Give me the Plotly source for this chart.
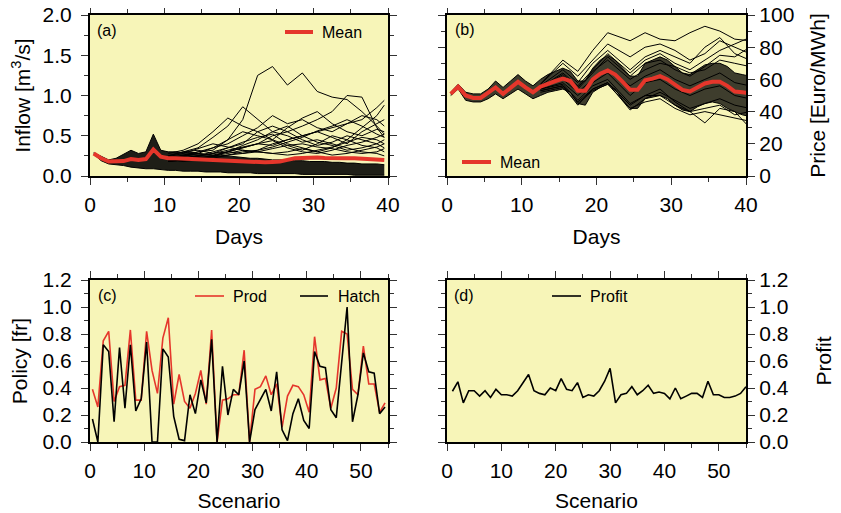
import plotly.graph_objects as go

# ---------------- Panel (a): inflow scenarios ----------------
days_a = [0.5 + k for k in range(40)]
inflow_mean = [0.28, 0.22, 0.18, 0.18, 0.185, 0.21, 0.20, 0.21, 0.33, 0.24,
               0.22, 0.22, 0.215, 0.21, 0.205, 0.20, 0.195, 0.19, 0.185, 0.18,
               0.175, 0.17, 0.17, 0.17, 0.175, 0.18, 0.20, 0.22, 0.225, 0.23,
               0.23, 0.225, 0.22, 0.215, 0.22, 0.22, 0.215, 0.21, 0.205, 0.20]
inflow_low = [0.27, 0.19, 0.15, 0.14, 0.13, 0.11, 0.10, 0.09, 0.09, 0.08,
              0.07, 0.07, 0.06, 0.06, 0.06, 0.05, 0.05, 0.05, 0.04, 0.04,
              0.04, 0.04, 0.03, 0.03, 0.03, 0.03, 0.03, 0.03, 0.02, 0.02,
              0.02, 0.02, 0.02, 0.02, 0.02, 0.01, 0.01, 0.01, 0.01, 0.01]
inflow_high = [0.29, 0.24, 0.20, 0.22, 0.27, 0.32, 0.28, 0.30, 0.52, 0.32,
               0.30, 0.30, 0.29, 0.30, 0.28, 0.27, 0.26, 0.25, 0.25, 0.24,
               0.23, 0.22, 0.22, 0.21, 0.20, 0.20, 0.20, 0.19, 0.19, 0.18,
               0.18, 0.18, 0.17, 0.17, 0.16, 0.16, 0.15, 0.15, 0.15, 0.14]
days_a_out = [10.5, 12.5, 14.5, 16.5, 18.5, 20.5, 22.5, 24.5, 26.5, 28.5,
              30.5, 32.5, 34.5, 36.5, 38.5, 39.5]
inflow_outliers = [
    [0.22, 0.25, 0.30, 0.32, 0.45, 0.70, 1.25, 1.36, 1.13, 1.28, 1.05, 0.98, 0.95, 0.80, 0.62, 0.52],
    [0.20, 0.22, 0.25, 0.28, 0.30, 0.35, 0.40, 0.50, 0.55, 0.62, 0.70, 0.80, 1.00, 0.98, 0.60, 0.48],
    [0.20, 0.18, 0.20, 0.25, 0.30, 0.28, 0.32, 0.40, 0.45, 0.50, 0.55, 0.60, 0.65, 0.70, 0.85, 0.94],
    [0.25, 0.30, 0.35, 0.48, 0.62, 0.86, 0.70, 0.55, 0.50, 0.42, 0.45, 0.40, 0.35, 0.30, 0.28, 0.25],
    [0.28, 0.32, 0.40, 0.55, 0.72, 0.62, 0.55, 0.62, 0.55, 0.45, 0.38, 0.42, 0.50, 0.45, 0.40, 0.35],
    [0.22, 0.25, 0.28, 0.35, 0.40, 0.50, 0.60, 0.75, 0.65, 0.70, 0.60, 0.55, 0.65, 0.75, 0.70, 0.62],
    [0.20, 0.22, 0.25, 0.30, 0.35, 0.40, 0.55, 0.45, 0.60, 0.72, 0.80, 0.65, 0.55, 0.50, 0.58, 0.55],
    [0.18, 0.20, 0.22, 0.25, 0.30, 0.35, 0.40, 0.38, 0.45, 0.50, 0.55, 0.48, 0.40, 0.55, 0.65, 0.70],
    [0.25, 0.30, 0.32, 0.28, 0.35, 0.42, 0.48, 0.52, 0.40, 0.35, 0.30, 0.35, 0.45, 0.60, 0.75, 0.88],
    [0.22, 0.26, 0.30, 0.35, 0.45, 0.55, 0.50, 0.45, 0.38, 0.32, 0.40, 0.50, 0.45, 0.38, 0.35, 0.30],
    [0.20, 0.24, 0.28, 0.26, 0.30, 0.38, 0.45, 0.55, 0.62, 0.50, 0.42, 0.38, 0.32, 0.35, 0.40, 0.45],
    [0.18, 0.20, 0.22, 0.24, 0.26, 0.30, 0.32, 0.36, 0.42, 0.48, 0.56, 0.62, 0.70, 0.62, 0.52, 0.48],
    [0.20, 0.22, 0.25, 0.28, 0.32, 0.36, 0.40, 0.44, 0.35, 0.30, 0.28, 0.32, 0.38, 0.42, 0.48, 0.52],
    [0.24, 0.28, 0.34, 0.40, 0.36, 0.32, 0.30, 0.28, 0.30, 0.34, 0.30, 0.26, 0.28, 0.32, 0.36, 0.40],
    [0.20, 0.22, 0.24, 0.22, 0.26, 0.28, 0.30, 0.34, 0.38, 0.40, 0.36, 0.34, 0.30, 0.28, 0.30, 0.34],
    [0.18, 0.20, 0.22, 0.25, 0.28, 0.32, 0.30, 0.28, 0.26, 0.28, 0.32, 0.36, 0.42, 0.48, 0.45, 0.40],
]

# ---------------- Panel (b): price scenarios ----------------
days_b = [0.5 + k for k in range(41)]
price_mean = [51, 55.5, 50, 48.5, 48.5, 51.5, 55, 51, 55, 58.5,
              55, 52, 55.5, 57.5, 59, 60.5, 59, 53, 53, 60,
              63.5, 65.5, 63, 58.5, 53.5, 53.5, 59.5, 60.5, 62, 60,
              56.5, 53.5, 52.5, 55, 57.5, 58.5, 58.5, 56, 52.5, 52, 51.5]
price_low = [50, 54, 47, 46, 46, 48, 51, 48, 51, 54,
             51, 48, 50, 52, 53, 54, 52, 45, 44, 52,
             55, 57, 54, 47, 42, 42, 48, 49, 50, 48,
             44, 41, 40, 43, 45, 46, 45, 42, 40, 38, 37]
price_high = [52, 57, 52, 51, 51, 54, 59, 55, 59, 63,
              59, 56, 60, 63, 65, 67, 65, 59, 59, 67,
              72, 75, 72, 67, 62, 62, 70, 72, 74, 72,
              68, 64, 63, 66, 69, 70, 70, 68, 64, 63, 62]
days_b_out = [12.5, 15.5, 17.5, 19.5, 21.5, 24.5, 26.5, 28.5, 30.5, 32.5,
              34.5, 36.5, 38.5, 40.5]
price_outliers = [
    [57, 72, 65, 78, 89, 84, 89, 85, 84, 89, 93, 90, 85, 84],
    [57, 70, 62, 72, 82, 74, 80, 82, 78, 72, 76, 84, 80, 76],
    [56, 66, 58, 70, 78, 66, 74, 78, 74, 70, 80, 86, 76, 72],
    [55, 64, 56, 66, 76, 64, 72, 76, 70, 66, 72, 78, 82, 86],
    [54, 62, 54, 64, 74, 62, 70, 72, 66, 62, 68, 75, 74, 80],
    [55, 63, 55, 65, 72, 60, 66, 70, 68, 64, 66, 72, 70, 68],
    [53, 56, 46, 54, 58, 44, 50, 54, 46, 40, 33, 42, 40, 30],
    [52, 55, 45, 53, 57, 42, 46, 48, 42, 38, 40, 38, 36, 34],
    [54, 57, 47, 56, 60, 45, 50, 50, 44, 40, 42, 44, 38, 40],
    [53, 56, 44, 54, 58, 41, 48, 52, 47, 42, 45, 48, 44, 42],
    [55, 60, 52, 60, 66, 56, 62, 66, 60, 56, 60, 64, 58, 56],
    [54, 58, 50, 58, 64, 50, 58, 60, 54, 50, 54, 56, 50, 48],
]

# ---------------- Panel (c): policies ----------------
scen_c = [0.45 + k for k in range(55)]
prod = [0.39, 0.26, 0.75, 0.82, 0.30, 0.41, 0.42, 0.83, 0.31, 0.31,
        0.82, 0.53, 0.36, 0.77, 0.92, 0.28, 0.50, 0.30, 0.25, 0.36,
        0.53, 0.28, 0.83, 0.00, 0.31, 0.32, 0.35, 0.35, 0.68, 0.00,
        0.39, 0.41, 0.49, 0.35, 0.43, 0.11, 0.34, 0.42, 0.41, 0.35,
        0.22, 0.78, 0.46, 0.47, 0.25, 0.40, 0.82, 0.80, 0.39, 0.35,
        0.71, 0.43, 0.43, 0.22, 0.29]
hatch = [0.17, 0.00, 0.72, 0.67, 0.15, 0.70, 0.25, 0.72, 0.23, 0.32,
         0.74, 0.00, 0.00, 0.69, 0.63, 0.19, 0.02, 0.01, 0.35, 0.21,
         0.46, 0.29, 0.76, 0.00, 0.56, 0.20, 0.39, 0.35, 0.60, 0.00,
         0.24, 0.32, 0.39, 0.23, 0.52, 0.09, 0.01, 0.21, 0.32, 0.16,
         0.10, 0.67, 0.56, 0.55, 0.24, 0.18, 0.62, 1.00, 0.15, 0.35,
         0.66, 0.52, 0.51, 0.21, 0.26]

# ---------------- Panel (d): profit ----------------
scen_d = [1 + k for k in range(55)]
profit = [0.376, 0.446, 0.29, 0.38, 0.38, 0.34, 0.38, 0.33, 0.39, 0.35,
          0.35, 0.34, 0.38, 0.445, 0.50, 0.38, 0.36, 0.35, 0.40, 0.38,
          0.47, 0.39, 0.38, 0.44, 0.33, 0.35, 0.34, 0.38, 0.45, 0.545,
          0.29, 0.35, 0.36, 0.41, 0.35, 0.38, 0.42, 0.36, 0.37, 0.36,
          0.32, 0.40, 0.32, 0.34, 0.36, 0.36, 0.33, 0.45, 0.35, 0.35,
          0.33, 0.33, 0.34, 0.36, 0.41]

RED = "#E5362B"
BG = "#F7F5B8"
FONT = "Liberation Sans, Arial, Helvetica, sans-serif"

# the page shows the figure with an 8px body margin; compensate
OFF = 8
W, H = 841 - OFF, 513 - OFF

def px(x):
    return (x - OFF) / W

def py(y):
    return 1 - (y - OFF) / H

fig = go.Figure()

def band(x, lo, hi, xa, ya, color):
    fig.add_trace(go.Scatter(x=x, y=lo, mode="lines", line=dict(color="black", width=1),
                             xaxis=xa, yaxis=ya, showlegend=False, hoverinfo="skip"))
    fig.add_trace(go.Scatter(x=x, y=hi, mode="lines", line=dict(color="black", width=1),
                             fill="tonexty", fillcolor=color,
                             xaxis=xa, yaxis=ya, showlegend=False, hoverinfo="skip"))

# (a)
band(days_a, inflow_low, inflow_high, "x", "y", "rgba(0,0,0,0.88)")
for ser in inflow_outliers:
    fig.add_trace(go.Scatter(x=days_a_out, y=ser, mode="lines", line=dict(color="black", width=1),
                             xaxis="x", yaxis="y", showlegend=False))
fig.add_trace(go.Scatter(x=days_a, y=inflow_mean, mode="lines", line=dict(color=RED, width=4),
                         xaxis="x", yaxis="y", showlegend=False, name="Mean"))

# (b)
band(days_b, price_low, price_high, "x2", "y2", "rgba(15,15,10,0.8)")
for ser in price_outliers:
    fig.add_trace(go.Scatter(x=days_b_out, y=ser, mode="lines", line=dict(color="black", width=1),
                             xaxis="x2", yaxis="y2", showlegend=False))
fig.add_trace(go.Scatter(x=days_b, y=price_mean, mode="lines", line=dict(color=RED, width=4),
                         xaxis="x2", yaxis="y2", showlegend=False, name="Mean"))

# (c)
fig.add_trace(go.Scatter(x=scen_c, y=prod, mode="lines", line=dict(color=RED, width=1.6),
                         xaxis="x3", yaxis="y3", showlegend=False, name="Prod"))
fig.add_trace(go.Scatter(x=scen_c, y=hatch, mode="lines", line=dict(color="black", width=1.6),
                         xaxis="x3", yaxis="y3", showlegend=False, name="Hatch"))
# (d)
fig.add_trace(go.Scatter(x=scen_d, y=profit, mode="lines", line=dict(color="black", width=1.6),
                         xaxis="x4", yaxis="y4", showlegend=False, name="Profit"))

xdomL = [px(90), px(388)]
xdomR = [px(447), px(746)]
ydomT = [py(176), py(15)]
ydomB = [py(442), py(280)]

tickfont = dict(family=FONT, size=21, color="black")
titlefont = dict(family=FONT, size=21, color="black")

def ax(domain, anchor, rng, dtick, mdtick, title, fmt=None, side=None, standoff=None, tls=0):
    d = dict(domain=domain, anchor=anchor, range=rng, dtick=dtick, tick0=0,
             automargin=False, ticklabeloverflow="allow",
             showline=True, linewidth=2.2, linecolor="black", mirror="ticks",
             ticks="outside", ticklen=7, tickwidth=1.4, tickcolor="#333",
             minor=dict(dtick=mdtick, ticks="outside", ticklen=4, tickwidth=1.2, tickcolor="#333"),
             showgrid=False, zeroline=False, tickfont=tickfont, ticklabelstandoff=tls,
             title=dict(text=title, font=titlefont))
    if fmt:
        d["tickformat"] = fmt
    if side:
        d["side"] = side
    if standoff is not None:
        d["title"]["standoff"] = standoff
    return d

fig.update_layout(
    width=W, height=H, margin=dict(l=0, r=0, t=0, b=0),
    paper_bgcolor="white", plot_bgcolor=BG,
    font=dict(family=FONT, color="black"),
    xaxis=ax(xdomL, "y", [0, 40], 10, 5, "Days", standoff=14, tls=2),
    yaxis=ax(ydomT, "x", [0, 2], 0.5, 0.25, "Inflow [m<sup>3</sup>/s]", fmt=".1f", standoff=10, tls=5),
    xaxis2=ax(xdomR, "y2", [0, 40], 10, 5, "Days", standoff=14, tls=2),
    yaxis2=ax(ydomT, "x2", [0, 100], 20, 10, "Price [Euro/MWh]", side="right", standoff=17, tls=0),
    xaxis3=ax(xdomL, "y3", [0, 55], 10, 5, "Scenario", standoff=12, tls=2),
    yaxis3=ax(ydomB, "x3", [0, 1.2], 0.2, 0.1, "Policy [fr]", fmt=".1f", standoff=10, tls=5),
    xaxis4=ax(xdomR, "y4", [0, 55], 10, 5, "Scenario", standoff=12, tls=2),
    yaxis4=ax(ydomB, "x4", [0, 1.2], 0.2, 0.1, "Profit", fmt=".1f", side="right", standoff=28, tls=0),
)

annos = []
shapes = []
lab = dict(family=FONT, size=16, color="black")
for text, x, y in [("(a)", 95, 30), ("(b)", 453, 29), ("(c)", 96, 295), ("(d)", 452, 295)]:
    annos.append(dict(text=text, x=px(x), y=py(y), xref="paper", yref="paper",
                      xanchor="left", yanchor="middle", showarrow=False, font=lab))

legend_keys = [
    ("Mean", RED, 4, 285, 313, 32, 320),
    ("Mean", RED, 4, 462, 491, 162, 498),
    ("Prod", RED, 1.6, 195, 224, 296, 231),
    ("Hatch", "black", 1.6, 300, 328, 296, 336),
    ("Profit", "black", 1.6, 552, 581, 296, 588),
]
for text, col, lw, x0, x1, y, tx in legend_keys:
    shapes.append(dict(type="line", xref="paper", yref="paper", x0=px(x0), x1=px(x1),
                       y0=py(y), y1=py(y), line=dict(color=col, width=lw)))
    annos.append(dict(text=text, x=px(tx), y=py(y), xref="paper", yref="paper",
                      xanchor="left", yanchor="middle", showarrow=False, font=lab))

fig.update_layout(annotations=annos, shapes=shapes)

fig.write_html("out.html")
